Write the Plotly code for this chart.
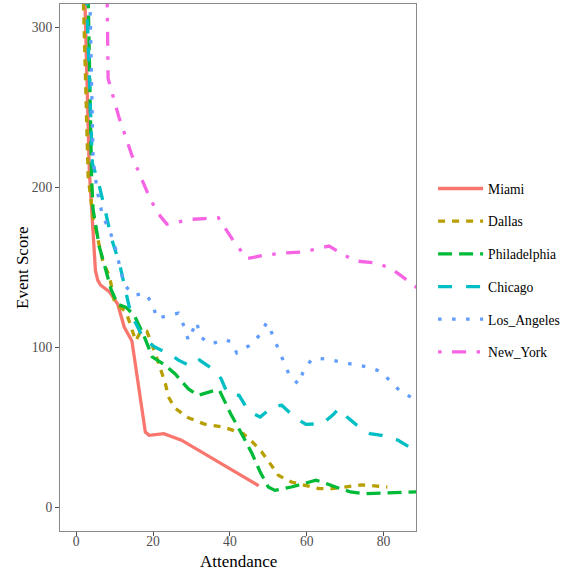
import plotly.graph_objects as go

# ---- data ----
miami_x = [2, 3.4, 5.0, 5.6, 6.3, 8.7, 10.8, 12.5, 14.5, 16, 18, 19, 22.8, 27.4, 47.5]
miami_y = [342, 211, 148, 142, 139, 134.6, 127, 112.7, 104, 80, 47, 45, 46, 42, 13.5]

dallas_x = [1.5, 3.1, 4.4, 5.3, 6.9, 8.7, 10, 13, 15.5, 16.8, 18.4, 20.6, 23.2, 24, 25.7, 29.2,
            33.4, 38.5, 43.5, 45.8, 48.3, 50.5, 52.6, 56, 59.4, 63.2, 66.7, 70.5, 74.3, 78.2, 81]
dallas_y = [350, 207, 181, 172, 154, 144, 128, 122, 104, 110, 110, 96, 77.5, 69, 62, 56,
            52, 50, 46, 41, 34.6, 27.3, 20, 15.8, 13.75, 11.7, 11.7, 12.7, 14, 13.3, 12.7]

phil_x = [2.8, 4.0, 4.4, 5.1, 6, 7.4, 9.1, 10.8, 13, 15.1, 17.6, 19.8, 23.2, 25.7, 29.2, 31.7,
          36, 37.3, 38.5, 40.2, 42.6, 45.8, 47.9, 50, 51.7, 56, 62.4, 64.1, 67.5, 71.4, 75.2, 82, 90]
phil_y = [360, 206, 186, 177, 163, 151, 136, 127, 125, 120, 107.5, 94, 88.75, 83.5, 74, 70,
          73, 73, 67, 58.5, 48, 33.5, 22, 12.7, 10.6, 12.7, 16.9, 15.8, 12.7, 9.6, 8.5, 9.2, 9.8]

chic_x = [2.4, 4.2, 5.0, 6.0, 7.3, 9.2, 11.3, 13, 14.2, 15.5, 17.6, 20.6, 24.9, 26.6, 30, 32.1,
          36, 37.7, 39.4, 42.4, 44.9, 47.9, 51.3, 53.5, 57.3, 59.8, 64.1, 66.7, 68.4, 70.5,
          73.1, 76.5, 79.5, 83.7, 86.7, 90]
chic_y = [340, 215, 209, 201, 188, 168, 152, 134, 121, 115, 105, 100, 95, 92, 88, 92,
          85.6, 80.4, 71, 70, 60, 56.4, 63.3, 63.75, 55.4, 51.9, 52.3, 57.5, 61.7, 56.4,
          51.25, 46, 45, 42, 37.7, 34]

la_x = [3.2, 4.4, 5.4, 6.1, 7, 8.7, 10, 12.5, 15.1, 17.9, 19.9, 21, 24, 26.6, 28.1, 29.2,
        31.3, 32.4, 35.1, 38.5, 40.2, 41.8, 45, 47.7, 49.6, 51.2, 52.6, 54, 55.6, 57.9, 59.2,
        61.3, 64.8, 68.4, 72, 75.9, 79.2, 81.8, 84.6, 87.5, 90]
la_y = [362, 217, 199, 190, 181.5, 173, 164, 139, 132.5, 134, 127, 118, 120, 121.4, 113, 104.4,
        116, 106.4, 102, 105, 103.5, 96.5, 101, 107.5, 115.5, 107.5, 99, 91, 82, 77, 85.6,
        92.5, 93, 91, 89.4, 87.7, 85, 78.75, 72, 68.5, 66]

ny_x = [8, 8.3, 11.1, 13, 14.5, 16.8, 18.5, 21, 23.6, 27.9, 30, 33.4, 37, 40.8, 44.4, 48.8,
        53.9, 59, 64.1, 65.8, 68.8, 72.6, 78.4, 82, 84.1, 87.1, 90]
ny_y = [330, 268, 244, 230, 220, 206.5, 197, 184.6, 177, 179, 180, 180.5, 181, 167, 155.4, 157.5,
        159, 159.6, 162.7, 163.3, 159, 154, 152.7, 149, 145.6, 140, 135]

series = [
    ("Miami", miami_x, miami_y, "#F8766D", "solid"),
    ("Dallas", dallas_x, dallas_y, "#B79F00", "7px,7px"),
    ("Philadelphia", phil_x, phil_y, "#00BA38", "14px,7px"),
    ("Chicago", chic_x, chic_y, "#00BFC4", "14px,14px"),
    ("Los_Angeles", la_x, la_y, "#619CFF", "3.5px,10.5px"),
    ("New_York", ny_x, ny_y, "#F564E3", "3.5px,10.5px,14px,10.5px"),
]

x_ticks = [0, 20, 40, 60, 80]
y_ticks = [0, 100, 200, 300]

fig = go.Figure()
for i, (name, xs, ys, col, dash) in enumerate(series):
    fig.add_trace(go.Scatter(
        x=xs, y=ys, mode="lines", name=name, legendgroup=name,
        line=dict(color=col, width=3.3, dash=dash),
    ))

FONT = "Liberation Serif"
axis_common = dict(
    showgrid=False, zeroline=False, showline=True, mirror=True,
    linecolor="#8a8a8a", linewidth=1.2,
    ticks="outside", ticklen=4, tickwidth=1, tickcolor="#4d4d4d",
    tickfont=dict(family=FONT, size=13.6, color="#4d4d4d"),
    automargin=False,
)

fig.update_layout(
    width=569, height=570,
    margin=dict(l=59.5, r=147.5, t=4, b=39),
    paper_bgcolor="white", plot_bgcolor="white",
    font=dict(family=FONT, color="black"),
    xaxis=dict(range=[-4.22, 88.45], tickvals=x_ticks, ticklabelstandoff=-6, **axis_common),
    yaxis=dict(range=[-14.8, 314.6], tickvals=y_ticks, **axis_common),
    legend=dict(x=1.048, xanchor="left", y=0.494, yanchor="middle",
                font=dict(family=FONT, size=13.6, color="black"),
                tracegroupgap=12, itemwidth=45, traceorder="grouped",
                bgcolor="rgba(0,0,0,0)"),
    showlegend=True,
    annotations=[
        dict(text="Attendance", xref="paper", yref="paper", x=0.5, y=0,
             xanchor="center", yanchor="middle", yshift=-30, showarrow=False,
             font=dict(family=FONT, size=17, color="black")),
        dict(text="Event Score", xref="paper", yref="paper", x=0, y=0.5,
             xanchor="center", yanchor="middle", xshift=-37.5, textangle=-90,
             showarrow=False, font=dict(family=FONT, size=17, color="black")),
    ],
)

fig.write_html("out.html")
